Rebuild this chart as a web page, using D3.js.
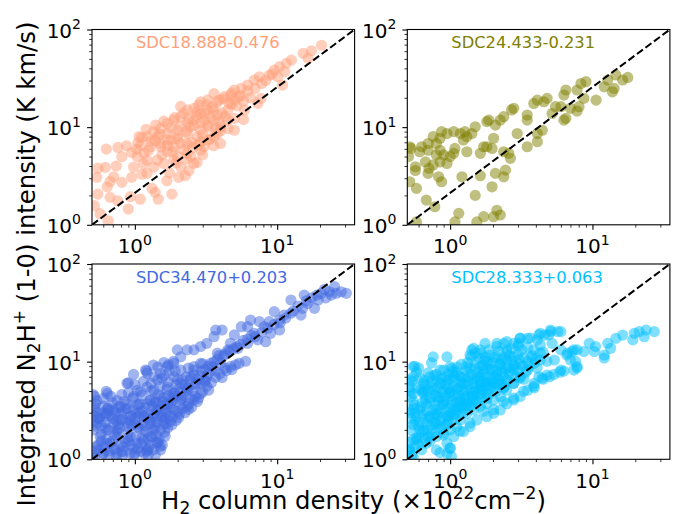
<!DOCTYPE html>
<html><head><meta charset="utf-8">
<script src="https://cdn.jsdelivr.net/npm/d3@7"></script>
<style>body{margin:0;background:#fff}svg{display:block}text{font-family:'DejaVu Sans',sans-serif}</style>
</head><body>
<svg id="c" width="678" height="514"></svg>
<script>
const titles = ["SDC18.888-0.476", "SDC24.433-0.231", "SDC34.470+0.203", "SDC28.333+0.063"];
const colors = ["#FFA07A", "#808000", "#4169E1", "#00BFFF"];

const sdc18888 = [[20.5,69],[17.4,60.6],[15.2,57],[16.5,50.6],[12.6,48.6],[11.6,45],[10.4,41.6],[9.55,38.5],[11.3,37],[10.1,32.8],[10.9,27],[8.8,34],[7.5,32.8],[6.9,30.4],[6.2,27],[5.6,25],[5.0,24],[4.7,21.3],[7.3,17.5],[7.7,19.7],[5.4,20.5],[4.25,20.5],[3.9,18.9],[3.6,22],[3.25,19],[2.9,18.2],[2.6,15.6],[2.34,15],[2.9,13.8],[3.6,15],[5.0,12.3],[4.5,15],[2.1,12.8],[1.88,11.8],[1.69,10.9],[1.52,9.7],[1.99,9.3],[2.47,10.1],[3.24,10.5],[4.0,10.1],[2.75,8.0],[3.6,8.0],[4.5,9.7],[1.36,9.0],[1.22,8.0],[1.07,8.0],[1.29,6.3],[1.52,6.8],[1.79,7.4],[2.1,6.8],[1.69,5.6],[2.34,5.4],[2.9,5.8],[1.04,5.0],[1.16,5.4],[1.44,4.6],[1.88,4.6],[2.47,5.0],[2.1,3.9],[2.6,4.25],
[1.44,8.0],[1.69,8.6],[1.99,8.0],[2.34,8.6],[2.9,9.3],[3.24,7.4],[3.8,8.6],[4.5,11.8],[3.6,11.8],[3.07,11.8],[2.6,11.8],[2.34,10.9],[1.69,7.4],[1.52,6.3],[1.88,6.3],[2.34,6.8],[2.9,7.1],[4.0,6.8],[3.07,6.3],[1.99,5.0],[1.6,4.25],[1.36,3.9],[1.22,4.6],[5.0,19],[5.9,15],[3.24,15],[2.75,14.4],[2.1,16.3],[3.8,13.3],[5.0,9.3],
[0.62,3.87],[0.74,4.0],[0.54,3.06],[0.67,2.78],[0.81,2.72],[0.95,3.06],[1.12,3.3],[0.55,2.06],[0.67,1.91],[0.76,1.76],[0.9,1.45],[0.52,1.57],[0.65,1.1],[1.09,1.83],[1.39,2.15],[1.46,1.83],[1.82,2.06],[1.68,2.82],[2.03,3.06],[2.26,3.18],[2.73,4.35],[3.58,6.45],[4.0,9.2],[1.03,5.97],[1.12,7.87],[1.39,7.25],[0.76,6.2],[0.875,6.45],[0.63,5.97],[0.81,5.0],
[0.93,1.94],[0.71,3.1],[0.64,2.45],[0.55,3.8],[0.57,1.3],[0.98,3.9],[1.22,3.36],[1.32,2.36],[5.8,12.0],[4.8,17.1],
[1.1,6.5],[1.2,9.5],[1.3,7.2],[1.4,10.5],[1.5,8.5],[1.6,11.5],[1.7,6.5],[1.8,9.8],[1.9,12.5],[2.0,7.6],[2.1,10.2],[2.2,13.8],[2.3,9.0],[2.4,12.2],[2.5,7.0],[2.6,10.4],[2.7,13.0],[2.8,16.8],[2.9,11.0],[3.0,8.4],[3.1,13.6],[3.2,17.0],[3.3,10.0],[3.4,12.6],[3.5,16.0],[3.7,9.6],[3.8,18.0],[3.9,11.2],[4.1,14.0],[4.2,19.5],[4.3,12.8],[4.6,17.5],[4.8,22.5],[5.2,16.5],[5.5,21.0],[5.8,18.5],[6.2,23.5],[6.5,20.0],[7.0,25.0],[7.8,28.0],[8.3,30.0],[9.2,35.0],[1.25,5.8],[1.55,5.2],[1.85,5.6],[2.2,5.9],[2.55,6.2],[1.95,4.3],[2.3,4.7],[2.8,6.6],[3.4,7.6],[1.15,4.2],[1.05,6.9],[0.95,5.5],[1.75,3.4],[2.4,3.6],[3.0,5.2]];

const sdc24433 = [[17.7,32.3],[16.3,30.4],[14.6,34.2],[12.8,30.4],[12.1,25.9],[14.2,24.9],[13.8,23],[10.6,18.9],[9.0,29.2],[8.3,28],[7.8,24],[8.7,19.7],[8.05,16.2],[7.0,15.6],[6.5,24],[6.3,21.3],[6.0,16.2],[5.5,16.2],[6.5,12.3],[6.3,11.8],[4.8,19.7],[4.56,18.2],[4.1,18.9],[3.87,17.5],[5.2,13.8],[3.48,13.3],[3.48,11.8],[4.44,9.3],[4.1,8.6],[4.1,7.1],[3.48,6.3],[2.8,15.6],[2.7,15],[2.38,12.8],[2.25,11.8],[1.87,11.8],[1.81,11.4],[2.08,10.5],[2.96,8.6],[2.02,7.7],[1.97,6.05],[2.38,5.6],[2.58,5.4],[2.65,4.8],[2.45,3.63],[2.08,3.36],[2.38,3.1],[1.63,5.4],[1.5,10.1],[1.42,8.6],[1.31,8.0],[1.24,7.4],[1.18,8.6],[1.27,9.0],[1.21,3.1],[1.31,5.6],[1.06,5.4],[1.08,6.05],[1.0,5.0],[0.95,4.25],[0.9,5.2],[0.85,5.8],[0.85,7.7],[0.95,8.6],[0.87,9.0],[1.06,9.0],[0.76,8.0],[0.8,6.8],[0.70,6.8],[0.63,6.3],[0.61,5.6],[0.70,5.8],[0.8,5.2],[0.85,4.4],[0.76,4.1],[0.67,4.4],[0.70,3.36],[0.71,3.78],[0.83,3.1],[0.87,2.76],[0.57,3.93],[0.57,3.6],[0.52,6.3],[0.53,6.05],[0.52,2.76],[0.58,2.36],[0.68,1.79],[0.78,1.53],[0.58,1.07],[0.51,5.0],[1.5,2.0],[1.15,1.31],[1.08,1.07],[1.54,1.07],[1.72,1.21],[2.02,1.21],[2.13,1.41],[2.25,1.26],[1.97,2.45],[1.72,6.3],[1.81,6.3],[1.63,3.18],[7.8,14.6]];

const sdc34470 = [[30.6,50.1],[28.2,52],[25.3,58.6],[23.3,52],[20.4,50.1],[19.4,42.8],[18.3,35.2],[16.4,39.6],[15.1,35.2],[14.7,30],[12.5,42.8],[12.5,31.3],[11.2,30],[10.4,26.7],[9.55,32.5],[8.8,25.7],[10.4,21.1],[9.0,19.5],[8.1,22.8],[7.5,25.7],[6.5,26.7],[6.2,22.8],[5.6,22.8],[6.9,19.5],[7.3,16.7],[8.3,16],[6.2,15.4],[5.0,18.8],[4.7,15.4],[5.3,13.7],[4.5,13.2],[4.1,21.1],[3.7,21.1],[3.6,18],[3.2,15.4],[3.8,12.2],[4.0,9.6],[4.7,8.9],[3.4,9.6],[2.9,14.3],[2.6,13.2],[2.33,13.2],[1.99,13.2],[2.1,11.2],[1.88,9.6],[1.69,8.9],[2.1,8.2],[2.6,8.9],[2.9,9.6],[2.47,7.0],[2.9,6.0],[3.2,7.0],[2.9,4.7],[2.6,4.05],[2.33,5.1],[2.1,6.0],[1.88,7.0],[1.51,7.6],[1.36,7.0],[1.22,7.6],[1.19,8.2],[0.88,6.0],[0.64,4.7],[1.04,5.1],[1.22,5.5],[1.36,5.1],[1.69,5.5],[1.88,4.7],[2.1,4.05],[2.33,3.5],[1.69,3.7],[1.51,4.4],[1.29,4.05],[1.09,3.7],[0.98,4.4],[0.88,3.7],[0.79,3.5],[0.71,3.2],[0.64,2.96],[0.57,2.73],[0.54,2.34],[0.51,2.0],[0.57,1.71],[0.54,1.35],[0.6,1.15],[0.67,1.46],[0.75,2.0],[0.79,2.53],[0.93,2.73],[1.04,2.96],[1.16,2.73],[1.29,2.34],[1.44,2.73],[1.6,2.34],[1.44,3.2],[1.29,1.71],[1.44,1.46],[1.52,1.25],[1.22,1.25],[1.04,1.46],[0.93,1.71],[0.83,1.35],[0.75,1.15],[0.93,1.15],[1.16,2.0],[1.04,2.16],[0.88,2.16],[0.71,2.34],[0.64,2.0],[0.64,1.46],[0.71,1.25],[0.53,3.7],[0.51,3.2],[0.6,3.5],[1.69,3.0],[1.88,3.2],[1.36,2.0],[15.5,48],
[1.51,1.36],[1.39,1.1],[1.21,1.21],[1.63,1.72],[1.82,2.25],[2.03,2.67],[2.38,3.25],[2.8,4.21],[3.3,5.12],[4.1,6.86],[5.1,9.3],[6.0,10.1],[0.51,4.6],[0.51,2.86],[0.98,7.4],[1.21,8.0],[0.9,6.05],[0.63,4.97],[0.81,4.6],[1.72,9.3],[1.87,10.1],[1.55,6.8],[1.92,8.0],[2.38,8.6],[2.96,8.0],[3.13,6.3],[2.38,5.37],[1.82,4.25],[1.39,3.93],[1.06,3.63],[0.81,3.1],[0.65,3.35],[0.55,2.65],[0.62,2.09],[0.72,1.79],[0.9,1.53],[1.12,1.65],[1.39,2.09],[1.63,2.65],[1.24,2.65],[0.95,2.26],[0.76,2.26],[0.58,1.53],[0.52,1.21],[0.65,1.21],[0.81,1.21],[1.0,1.16],[1.24,1.1],[2.14,4.25],[2.66,5.8],[3.68,8.0],[4.3,8.6],[5.4,9.6],
[0.52,1.05],[0.55,1.4],[0.58,1.8],[0.53,2.2],[0.56,2.6],[0.6,3.0],[0.52,3.4],[0.54,4.0],[0.6,1.15],[0.63,1.6],[0.66,2.0],[0.62,2.4],[0.68,2.8],[0.64,3.3],[0.7,3.8],[0.72,1.3],[0.75,1.7],[0.78,2.1],[0.74,2.5],[0.8,2.9],[0.77,3.4],[0.84,3.9],[0.82,1.1],[0.86,1.5],[0.9,1.9],[0.88,2.4],[0.94,2.8],[0.9,3.3],[0.96,4.2],[0.98,1.3],[1.02,1.7],[1.06,2.1],[1.0,2.6],[1.08,3.0],[1.04,3.6],[1.12,4.5],[1.1,1.2],[1.15,1.55],[1.2,1.9],[1.16,2.4],[1.24,2.9],[1.2,3.4],[1.28,4.0],[1.3,5.0],[1.25,1.3],[1.32,1.7],[1.38,2.2],[1.34,2.7],[1.42,3.2],[1.4,3.8],[1.46,4.6],[1.5,5.6],[1.45,1.5],[1.52,2.0],[1.58,2.5],[1.55,3.0],[1.62,3.6],[1.6,4.3],[1.68,5.2],[1.72,6.2],[1.65,2.3],[1.75,2.8],[1.8,3.4],[1.85,4.0],[1.9,4.8],[1.95,5.8],[2.0,3.1],[2.1,3.7],[2.2,4.5],[2.3,5.4],[2.15,6.5],[2.45,4.2],[2.55,5.0],[2.7,6.0],[2.9,7.2],[3.1,6.4],[3.3,7.6],[3.5,8.8],[3.8,10.5],[4.2,11.5],[4.6,12.8],[5.2,14.2],[5.8,16.5],[6.6,18.5],[3.0,9.5],[2.6,8.2],[2.3,7.0],[2.0,6.6],
[0.51,1.1],[0.56,1.25],[0.61,1.35],[0.66,1.1],[0.7,1.55],[0.74,1.05],[0.79,1.4],[0.84,1.2],[0.89,1.65],[0.94,1.4],[0.99,1.1],[1.05,1.3],[1.11,1.45],[1.17,1.15],[1.23,1.6],[1.29,1.4],[1.35,1.25],[1.41,1.75],[1.48,1.6],[1.56,1.4],[1.62,1.9],[1.7,2.1],[1.78,2.45],[1.85,2.7],[1.95,2.5],[2.05,2.9],[2.15,3.3],[2.25,3.0],[2.4,3.7],[2.5,3.4],[2.65,4.4],[2.75,3.9],[3.0,4.9],[3.2,5.6],[3.45,6.1],[3.7,6.9],[3.95,7.5],[4.4,8.1],[4.8,8.3],[0.51,2.5],[0.55,3.0],[0.58,2.2],[0.62,2.75],[0.66,3.15],[0.7,2.6],[0.73,3.0],[0.76,1.9],[0.82,2.55],[0.86,3.3],[0.92,2.5],[0.97,3.2],[1.01,2.3],[1.07,2.75],[1.13,3.1],[1.18,2.2],[1.22,3.7],[1.27,2.5],[1.33,3.5],[1.37,2.9],[1.43,2.4],[1.48,3.5],[1.53,2.75],[1.57,3.9],[1.64,3.2],[1.72,4.5],[1.78,3.7],[1.9,4.4],[2.0,5.2],[2.1,4.8],[2.25,5.8],[2.45,6.5],[2.6,7.3],[2.75,6.6],[3.1,8.3],[3.3,9.0],[3.6,10.0],[3.9,11.5],[4.3,12.0],[4.9,13.5],[5.5,15.0],[6.2,17.0],[7.0,18.0],[7.8,20.0],[8.6,22.0],[9.5,24.0],[10.5,25.0],[11.5,28.0],[13.0,33.0],[14.0,37.0],[16.0,42.0],[17.5,45.0],[19.0,48.0],[21.5,55.0],[24.0,48.0],[26.0,50.0],[22.0,45.0],[0.6,4.2],[0.68,4.4],[0.75,4.0],[0.52,4.4],[0.9,4.8],[1.1,4.9],[1.0,5.8],[1.15,6.3],[1.3,6.0],[1.45,6.5],[1.6,7.2],[1.75,8.0],[1.6,9.8],[1.45,8.8],[1.35,9.2]];

const sdc28333 = [[27.2,20.3],[23.8,21.1],[21.3,20.3],[19.7,19.5],[19.2,16.7],[16.3,18.7],[14.6,17.3],[12.8,15.4],[12.1,11.7],[10.3,12.7],[9.5,15.4],[8.7,12.7],[7.8,8.9],[7.4,13.2],[6.7,12.2],[6.0,13.2],[5.4,10.4],[5.7,20.3],[5.1,20.3],[4.6,18.7],[4.3,19.5],[4.1,16.7],[3.5,17.3],[3.1,17.3],[2.8,15.4],[2.38,15.4],[2.13,14.3],[1.87,13.2],[1.42,13.2],[1.5,12.2],[1.4,11.2],[4.2,7.0],[4.8,7.3],[3.9,6.0],[3.5,5.1],[3.1,4.4],[2.8,4.05],[2.5,3.7],[2.25,3.2],[2.02,2.96],[1.81,2.73],[1.54,2.53],[1.38,2.16],[1.24,1.92],[1.06,1.71],[0.95,1.46],[1.0,1.3],[0.95,1.15],[0.8,1.25],[0.68,1.46],[0.58,1.58],[0.52,1.25],[0.55,1.06],[0.61,2.0],[0.58,2.73],[0.52,3.2],[0.55,4.7],[0.52,6.5],[0.55,8.9],[0.6,8.6],[0.76,11.2],[0.95,11.2],[0.85,8.2],[1.0,8.9],[1.18,7.0],[1.31,8.9],[1.63,7.0],[1.92,8.2],[2.25,9.6],[2.5,10.4],[2.8,11.2],[3.2,13.2],[3.7,11.2],[3.5,8.2],[3.1,7.0],[2.8,6.0],[2.5,5.1],[2.25,4.4],[2.02,4.05],[1.81,3.7],[1.63,3.5],[1.46,3.2],[1.31,2.96],[1.18,2.53],[1.11,2.16],[1.0,2.0],[0.9,1.85],[0.8,1.71],[0.72,1.71],[0.65,2.0],[0.72,2.73],[0.8,3.2],[0.9,3.7],[1.0,4.4],[1.11,5.1],[1.24,6.0],[1.46,6.0],[1.63,5.1],[1.81,6.0],[2.02,5.5],[2.25,6.0],[2.5,6.5],[1.81,4.7],[1.46,4.4],[1.31,3.7],[1.18,3.5],[1.06,3.2],[0.95,2.73],[0.8,2.34],[0.68,2.34],[0.61,3.2],[0.68,3.7],[0.65,4.7],[0.76,5.1],[0.85,6.0],[0.72,7.0],[0.65,6.0],[0.95,6.5],[1.06,7.0],[0.8,4.4],[1.63,13.2],[1.77,11.2],[1.63,8.9],[2.13,11.2],[2.5,13.2],[4.3,12.2],[3.9,9.6],[4.3,10.4],[5.2,15.4],[6.0,8.2],[7.0,10.4],[7.4,8.2],[5.9,7.8],[5.0,7.0],[4.5,6.6],[3.9,5.4],
[7.8,13.2],[7.2,12.7],[6.6,11.7],[6.0,20.3],[5.07,21.1],[4.93,18.8],[4.2,18.8],[3.66,17.4],[3.11,17.4],[3.03,15.4],[2.5,16.0],[2.13,15.4],[1.76,15.4],[1.46,13.7],[1.38,11.7],[1.63,12.2],[1.9,11.7],[3.86,13.2],[4.3,14.8],[2.5,12.5],[23.1,18],[13.4,13.7],[10.5,14.3],
[0.565,8.97],[0.74,9.7],[0.7,7.66],[0.52,4.98],[0.55,3.93],[0.565,2.98],[0.55,2.26],[0.58,1.65],[0.51,1.27],[1.0,1.3],[1.02,1.07],[0.85,1.17],[0.72,1.53],[0.9,1.77],[1.17,1.94],[1.38,2.35],[1.71,3.1],[2.02,3.22],[2.37,3.93],[2.79,4.24],[3.28,4.98],[3.86,5.6],[4.43,6.8],[5.35,7.4],[6.3,8.0],[7.8,8.6],[7.6,10.1],[12.1,10.9],[0.8,2.26],[1.05,2.84],[1.38,3.63],[1.81,4.25],[2.37,5.37],[3.11,6.8],[4.08,8.6],[4.79,10.1],[0.68,3.1],[0.9,3.93],[1.24,4.98],[1.63,6.3],[2.13,7.4],[2.79,9.3],[0.61,6.8],[0.8,7.4],[1.05,8.0],[1.38,8.6],[1.81,10.1],[0.65,4.98],[1.0,4.98],[1.54,3.93],[1.17,3.93],[0.95,2.26],[0.78,2.9],
[0.52,1.2],[0.55,1.6],[0.53,2.0],[0.57,2.5],[0.52,3.0],[0.56,3.6],[0.53,4.4],[0.58,5.4],[0.54,6.3],[0.6,1.4],[0.63,1.9],[0.61,2.4],[0.65,2.9],[0.62,3.4],[0.67,4.1],[0.64,4.9],[0.68,5.8],[0.7,1.7],[0.73,2.2],[0.71,2.7],[0.76,3.2],[0.72,3.9],[0.78,4.6],[0.75,5.5],[0.8,6.5],[0.82,2.0],[0.85,2.5],[0.83,3.0],[0.88,3.6],[0.84,4.3],[0.9,5.1],[0.87,6.0],[0.93,7.0],[0.95,2.3],[0.98,2.8],[0.96,3.4],[1.02,4.0],[0.99,4.8],[1.05,5.6],[1.0,6.6],[1.08,2.6],[1.12,3.2],[1.1,3.8],[1.16,4.5],[1.13,5.3],[1.19,6.2],[1.15,7.2],[1.22,3.0],[1.27,3.6],[1.25,4.2],[1.3,5.0],[1.28,5.9],[1.35,6.9],[1.4,3.5],[1.45,4.1],[1.42,4.8],[1.5,5.6],[1.47,6.6],[1.55,7.7],[1.6,4.0],[1.66,4.7],[1.63,5.4],[1.72,6.3],[1.7,7.4],[1.78,8.6],[1.85,4.6],[1.92,5.3],[1.9,6.2],[2.0,7.2],[1.98,8.4],[2.1,5.0],[2.2,5.8],[2.15,6.8],[2.3,7.9],[2.25,9.2],[2.4,5.5],[2.5,6.4],[2.6,7.5],[2.55,8.8],[2.7,10.2],[2.8,6.0],[2.9,7.0],[3.0,8.2],[3.1,9.5],[3.3,6.6],[3.4,7.8],[3.6,9.0],[3.3,11.0],[3.0,12.0],[2.6,11.5],[2.3,10.5],[2.0,9.8],[1.7,9.2],[1.5,8.5],[1.3,8.0],[1.1,7.8],
[0.51,1.5],[0.54,1.1],[0.57,1.35],[0.6,1.7],[0.63,1.25],[0.66,1.6],[0.69,2.0],[0.74,1.85],[0.77,2.4],[0.81,2.85],[0.86,2.1],[0.89,2.7],[0.92,3.2],[0.97,2.5],[1.01,3.0],[1.04,3.6],[1.09,2.9],[1.14,3.5],[1.18,4.1],[1.23,3.3],[1.29,4.4],[1.33,3.9],[1.38,5.2],[1.43,4.4],[1.49,5.0],[1.56,4.5],[1.62,5.9],[1.68,5.1],[1.75,5.6],[1.82,7.0],[1.88,5.8],[1.95,6.6],[2.05,6.0],[2.12,8.0],[2.2,6.5],[2.35,7.0],[2.45,8.3],[2.65,8.0],[2.85,9.0],[3.05,10.5],[3.25,9.0],[3.5,10.0],[3.8,11.5],[4.0,10.5],[4.5,12.5],[0.52,5.5],[0.55,7.0],[0.58,7.8],[0.62,5.2],[0.66,6.4],[0.7,5.0],[0.73,6.1],[0.77,7.2],[0.82,5.4],[0.86,6.7],[0.9,8.2],[0.94,5.8],[0.98,7.5],[1.03,8.5],[1.07,6.4],[1.12,8.8],[1.2,9.4],[1.25,7.0],[1.33,9.8],[1.42,7.4],[1.52,9.7],[1.6,10.8],[1.75,10.4],[1.9,9.3],[2.05,11.0],[2.2,12.8],[2.4,11.0],[2.7,13.5],[3.0,14.5],[3.5,14.0],[0.53,2.6],[0.56,3.3],[0.6,2.2],[0.64,3.8],[0.68,2.6],[0.72,4.3],[0.78,3.6],[0.83,4.0],[0.88,4.8],[0.93,4.4],[0.97,5.3],[1.06,4.6],[1.18,5.6],[1.34,6.3],[1.56,6.9],[1.72,8.0],[2.3,8.7],[2.8,8.4]];

const xMajor = [1, 10];
const xMajorExp = ["0", "1"];
const yMajor = [1, 10, 100];
const yMajorExp = ["0", "1", "2"];
const xMinor = [0.6, 0.7, 0.8, 0.9, 2, 3, 4, 5, 6, 7, 8, 9, 20, 30];
const yMinor = [2, 3, 4, 5, 6, 7, 8, 9, 20, 30, 40, 50, 60, 70, 80, 90];
const xDomain = [0.5, 35];
const yDomain = [1, 100];

const colX = [92, 407.3], colW = 262.6, rowY = [29.5, 264], rowH = 195.3;
const tickFont = 20, titleFont = 16.3, labelFont = 24.3;
const markerR = 5.6, markerAlpha = 0.5;

const svg = d3.select("#c");
const panels = [
  {data: sdc18888, c: 0, r: 0},
  {data: sdc24433, c: 1, r: 0},
  {data: sdc34470, c: 0, r: 1},
  {data: sdc28333, c: 1, r: 1}
];

function richText(sel, parts, size) {
  let shift = 0;
  parts.forEach(([t, m]) => {
    const target = m === 1 ? -0.42 * size : (m === -1 ? 0.2 * size : 0);
    const ts = sel.append("tspan").text(t).attr("dy", target - shift);
    if (m !== 0) ts.attr("font-size", size * 0.7);
    shift = target;
  });
}

panels.forEach((p, i) => {
  const x0 = colX[p.c], y0 = rowY[p.r];
  const x = d3.scaleLog().domain(xDomain).range([x0, x0 + colW]);
  const y = d3.scaleLog().domain(yDomain).range([y0 + rowH, y0]);
  const g = svg.append("g");
  const cid = "clip" + i;
  svg.append("clipPath").attr("id", cid).append("rect")
    .attr("x", x0).attr("y", y0).attr("width", colW).attr("height", rowH);
  const pg = g.append("g").attr("clip-path", `url(#${cid})`);
  pg.selectAll("circle").data(p.data).join("circle")
    .attr("cx", d => x(d[0])).attr("cy", d => y(d[1])).attr("r", markerR)
    .attr("fill", colors[i]).attr("fill-opacity", markerAlpha);
  pg.append("line")
    .attr("x1", x(xDomain[0])).attr("y1", y(yDomain[0]))
    .attr("x2", x(xDomain[1])).attr("y2", y(yDomain[1]))
    .attr("stroke", "#000").attr("stroke-width", 2).attr("stroke-dasharray", "7.4,3.2");

  const bx = g.append("g").attr("transform", `translate(0,${y0 + rowH})`);
  bx.call(d3.axisBottom(x).tickValues(xMajor).tickSize(4.9).tickFormat(""));
  const bxm = g.append("g").attr("transform", `translate(0,${y0 + rowH})`);
  bxm.call(d3.axisBottom(x).tickValues(xMinor).tickSize(2.8).tickFormat(""));
  const ly = g.append("g").attr("transform", `translate(${x0},0)`);
  ly.call(d3.axisLeft(y).tickValues(yMajor).tickSize(4.9).tickFormat(""));
  const lym = g.append("g").attr("transform", `translate(${x0},0)`);
  lym.call(d3.axisLeft(y).tickValues(yMinor).tickSize(2.8).tickFormat(""));
  [bx, ly].forEach(s => s.selectAll(".tick line").attr("stroke", "#000").attr("stroke-width", 1.1));
  [bxm, lym].forEach(s => s.selectAll(".tick line").attr("stroke", "#000").attr("stroke-width", 0.8));
  [bx, bxm, ly, lym].forEach(s => s.select(".domain").remove());

  g.append("rect").attr("x", x0).attr("y", y0).attr("width", colW).attr("height", rowH)
    .attr("fill", "none").attr("stroke", "#000").attr("stroke-width", 1.1);

  xMajor.forEach((v, k) => {
    const t = g.append("text").attr("x", x(v)).attr("y", y0 + rowH + 28.5)
      .attr("text-anchor", "middle").attr("font-size", tickFont).attr("fill", "#000");
    richText(t, [["10", 0], [xMajorExp[k], 1]], tickFont);
  });
  yMajor.forEach((v, k) => {
    const t = g.append("text").attr("x", x0 - 11).attr("y", y(v) + 8)
      .attr("text-anchor", "end").attr("font-size", tickFont).attr("fill", "#000");
    richText(t, [["10", 0], [yMajorExp[k], 1]], tickFont);
  });

  g.append("text").attr("x", x0 + 44).attr("y", y0 + 18.8)
    .attr("font-size", titleFont).attr("fill", colors[i]).text(titles[i]);
});

const yl = svg.append("text").attr("transform", "translate(35,264) rotate(-90)")
  .attr("text-anchor", "middle").attr("font-size", labelFont).attr("fill", "#000");
richText(yl, [["Integrated N", 0], ["2", -1], ["H", 0], ["+", 1], [" (1-0) intensity (K km/s)", 0]], labelFont);
const xl = svg.append("text").attr("x", 353.5).attr("y", 509)
  .attr("text-anchor", "middle").attr("font-size", labelFont).attr("fill", "#000");
richText(xl, [["H", 0], ["2", -1], [" column density (\u00d710", 0], ["22", 1], ["cm", 0], ["\u22122", 1], [")", 0]], labelFont);
</script>
</body></html>
